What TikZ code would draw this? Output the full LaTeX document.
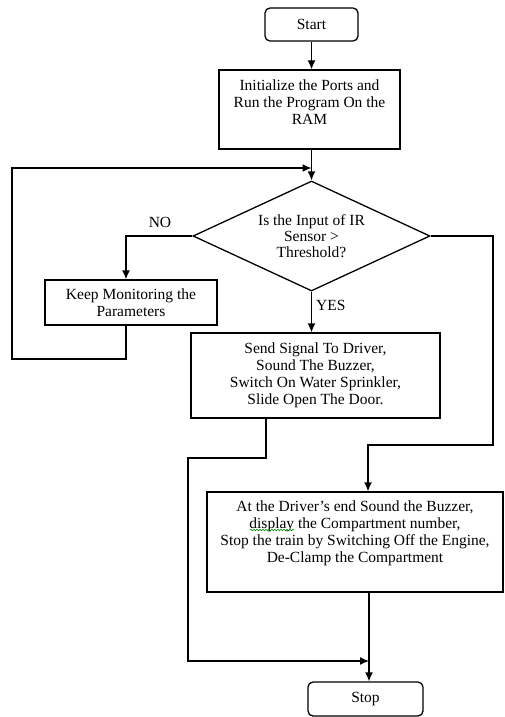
\documentclass[tikz,border=0pt]{standalone}
\usepackage{fontspec}
\setmainfont{Liberation Serif}
\usetikzlibrary{arrows.meta,shapes.geometric,decorations.pathmorphing}
\tikzset{
  flowbox/.style={draw, line width=1.3pt, rectangle, inner sep=0pt, align=center, font=\fontsize{15.5}{17}\selectfont},
  termbox/.style={flowbox, rounded corners=5pt},
  testbox/.style={draw, line width=1.3pt, diamond, aspect=2.15, inner sep=0pt, align=center, font=\fontsize{15.5}{16}\selectfont},
  flowlabel/.style={inner sep=0pt, font=\fontsize{15.5}{17}\selectfont},
  flowline/.style={line width=1.3pt},
  flowarrow/.style={flowline, -{Latex[length=9pt,width=8pt]}},
  spellmark/.style={green!55!black, line width=0.6pt, decorate, decoration={snake, amplitude=0.8pt, segment length=3pt}},
}

\begin{document}
\begin{tikzpicture}[x=1pt,y=-1pt]
		%%%%% START %%%%%
		\useasboundingbox (0,0) rectangle (504,717);
		
		\node[termbox, minimum width=93pt, minimum height=33pt] (start) at (311.5,24.5) {Start};
		\node[flowbox, minimum width=181pt, minimum height=79pt, text depth=14pt] (init) at (309.5,109.5) {Initialize the Ports and\\Run the Program On the\\RAM};
		\node[testbox, minimum width=237pt, minimum height=110pt] (test) at (311.5,236) {Is the Input of IR\\Sensor >\\Threshold?};
		\node[flowbox, minimum width=172pt, minimum height=45pt] (keep) at (131,302.5) {Keep Monitoring the\\Parameters};
		\node[flowbox, minimum width=249pt, minimum height=85pt] (alarm) at (315.5,375.5) {Send Signal To Driver,\\Sound The Buzzer,\\Switch On Water Sprinkler,\\Slide Open The Door.};
		\node[flowbox, minimum width=296pt, minimum height=100pt, text depth=21pt] (driver) at (355,542) {At the Driver’s end Sound the Buzzer,\\display the Compartment number,\\Stop the train by Switching Off the Engine,\\De-Clamp the Compartment};
		\node[termbox, minimum width=115pt, minimum height=34pt] (stop) at (365.5,699) {Stop};
		
		\node[flowlabel] (no) at (160,222) {NO};
		\node[flowlabel, anchor=west] (yes) at (316,305) {YES};
		
		% spell-check mark under "display"
		\draw[spellmark] (250,530) -- (294,530);
		
		\coordinate (loopin) at (311.5,168);
		\coordinate (merge) at (369,661);
		
		\draw[flowarrow] (start.south) -- (start.south |- init.north);
		\draw[flowarrow] (test.north |- init.south) -- (test.north);
		\draw[flowarrow] (test.west) -| ([xshift=-5pt]keep.north);
		\draw[flowarrow] ([xshift=-5pt]keep.south) |- (12,359) -- (12,168) -- (loopin);
		\draw[flowarrow] (test.south) -- (test.south |- alarm.north);
		\draw[flowarrow] (test.east) -| (493,445) -| ([xshift=13pt]driver.north);
		\draw[flowarrow] ([xshift=-49.5pt]alarm.south) |- (188,458) |- (merge);
		\draw[flowarrow] ([xshift=14pt]driver.south) -- ([xshift=3.5pt]stop.north);
		%%%%% END %%%%%
\end{tikzpicture}
\end{document}
